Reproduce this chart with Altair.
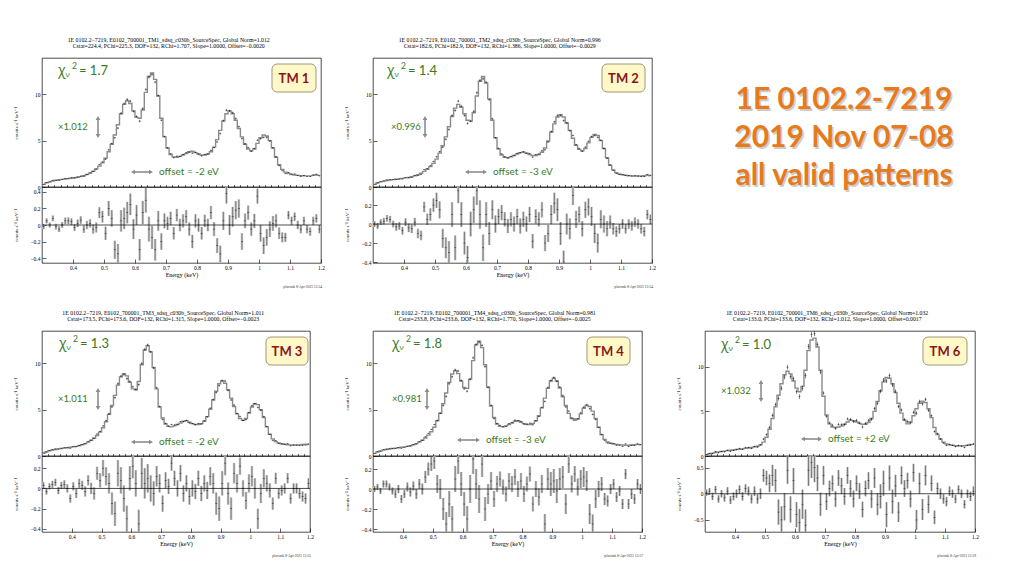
import altair as alt
import pandas as pd

# ---------------- data ----------------
ENERGY = [round(0.305 + 0.01 * i, 3) for i in range(90)]  # bin centres, keV
X_MAJOR = [0.4, 0.5, 0.6, 0.7, 0.8, 0.9, 1.0, 1.1, 1.2]
X_MINOR = [0.32, 0.34, 0.36, 0.38, 0.4, 0.42, 0.44, 0.46, 0.48, 0.5, 0.52, 0.54, 0.56, 0.58,
           0.6, 0.62, 0.64, 0.66, 0.68, 0.7, 0.72, 0.74, 0.76, 0.78, 0.8, 0.82, 0.84, 0.86,
           0.88, 0.9, 0.92, 0.94, 0.96, 0.98, 1.0, 1.02, 1.04, 1.06, 1.08, 1.1, 1.12, 1.14,
           1.16, 1.18]

MODEL_TM1 = [0.30,0.45,0.55,0.65,0.72,0.78,0.82,0.86,0.90,0.95,
             1.00,1.05,1.12,1.22,1.35,1.50,1.70,1.95,2.25,2.60,
             3.10,3.80,4.60,5.60,6.70,7.90,8.90,9.30,9.00,8.20,
             7.50,7.40,8.30,10.20,11.90,12.30,11.60,9.80,7.40,5.40,
             4.20,3.50,3.25,3.20,3.30,3.45,3.60,3.80,3.85,3.70,
             3.55,3.45,3.45,3.55,3.80,4.30,5.10,6.10,7.10,7.90,
             8.20,7.90,7.20,6.30,5.40,4.60,4.10,3.90,4.10,4.70,
             5.30,5.60,5.50,5.00,4.20,3.20,2.40,1.90,1.60,1.45,
             1.35,1.30,1.25,1.22,1.20,1.20,1.20,1.25,1.30,1.25]
MODEL_TM2 = [0.30,0.45,0.55,0.63,0.70,0.76,0.80,0.84,0.88,0.93,
             0.98,1.03,1.10,1.20,1.32,1.48,1.68,1.92,2.20,2.55,
             3.00,3.65,4.45,5.40,6.50,7.60,8.50,8.90,8.60,7.90,
             7.20,7.10,8.00,9.80,11.40,11.90,11.20,9.50,7.20,5.30,
             4.10,3.45,3.20,3.15,3.25,3.40,3.55,3.70,3.75,3.65,
             3.50,3.40,3.40,3.50,3.75,4.20,4.95,5.90,6.80,7.55,
             7.80,7.55,6.90,6.10,5.25,4.50,4.05,3.90,4.15,4.75,
             5.35,5.65,5.55,5.00,4.15,3.15,2.35,1.85,1.55,1.40,
             1.32,1.27,1.22,1.20,1.18,1.18,1.18,1.22,1.27,1.22]
MODEL_TM3 = [0.30,0.46,0.56,0.64,0.71,0.77,0.81,0.85,0.89,0.94,
             0.99,1.04,1.11,1.21,1.34,1.50,1.70,1.94,2.22,2.58,
             3.05,3.70,4.50,5.45,6.55,7.65,8.55,8.90,8.65,7.95,
             7.25,7.15,8.05,9.85,11.45,11.90,11.25,9.55,7.25,5.30,
             4.10,3.45,3.20,3.15,3.25,3.40,3.55,3.75,3.80,3.65,
             3.50,3.40,3.40,3.50,3.75,4.25,5.05,6.05,7.00,7.80,
             8.10,7.85,7.15,6.25,5.35,4.55,4.05,3.85,4.05,4.65,
             5.30,5.65,5.55,5.00,4.15,3.15,2.35,1.85,1.55,1.40,
             1.32,1.27,1.22,1.20,1.18,1.18,1.20,1.24,1.28,1.24]
MODEL_TM4 = [0.28,0.44,0.54,0.63,0.70,0.76,0.81,0.85,0.89,0.94,
             0.99,1.04,1.11,1.21,1.34,1.50,1.70,1.95,2.25,2.62,
             3.10,3.80,4.62,5.65,6.80,7.95,8.85,9.20,8.90,8.10,
             7.40,7.30,8.30,10.30,12.00,12.40,11.70,9.85,7.45,5.40,
             4.15,3.45,3.20,3.15,3.25,3.40,3.55,3.75,3.80,3.65,
             3.50,3.40,3.40,3.52,3.80,4.35,5.20,6.25,7.30,8.10,
             8.40,8.10,7.35,6.40,5.45,4.60,4.05,3.85,4.00,4.55,
             5.15,5.45,5.35,4.85,4.05,3.10,2.30,1.80,1.52,1.38,
             1.30,1.25,1.20,1.18,1.16,1.16,1.18,1.22,1.26,1.22]
MODEL_TM6 = [0.15,0.25,0.32,0.40,0.46,0.50,0.55,0.60,0.64,0.68,
             0.72,0.76,0.80,0.85,0.90,0.95,1.02,1.10,1.25,1.55,
             2.10,3.00,4.20,5.50,6.80,8.10,9.10,9.50,9.20,8.40,
             7.60,7.20,7.80,9.60,11.80,13.00,13.20,12.20,9.60,6.70,
             4.60,3.60,3.25,3.20,3.25,3.35,3.55,3.80,4.00,3.95,
             3.80,3.65,3.55,3.55,3.75,4.20,5.00,6.10,7.30,8.30,
             8.80,8.70,8.10,7.10,5.90,4.80,4.00,3.60,3.80,4.50,
             5.30,5.90,6.15,6.00,5.30,4.30,3.20,2.40,1.90,1.55,
             1.35,1.25,1.20,1.15,1.12,1.12,1.15,1.20,1.28,1.30]

RESID_TM1 = [-0.02,0.05,0.00,0.08,-0.02,-0.05,0.00,0.05,0.05,0.04,
             -0.03,0.02,0.06,-0.05,0.00,0.02,-0.05,-0.03,0.15,0.10,
             -0.10,0.20,0.08,-0.30,-0.35,0.05,0.08,0.15,0.25,-0.05,
             0.12,-0.30,0.15,0.30,-0.05,-0.15,-0.30,0.05,-0.20,0.05,
             0.02,0.08,-0.10,0.12,0.00,0.05,0.10,-0.05,-0.20,0.05,
             0.00,-0.10,0.05,0.00,0.15,-0.05,-0.25,-0.35,0.05,0.38,
             0.00,0.10,0.18,0.20,-0.20,0.05,0.15,-0.05,0.05,0.35,
             -0.10,-0.25,-0.15,-0.05,0.02,0.05,-0.10,-0.15,-0.15,0.12,
             0.05,0.10,0.00,-0.05,0.05,-0.05,-0.08,0.05,0.08,-0.05]
RESID_TM2 = [0.00,-0.02,0.02,0.03,0.06,0.05,0.00,-0.03,-0.02,-0.07,
             0.02,-0.04,-0.05,0.02,-0.10,-0.12,0.18,0.05,0.10,0.20,
             0.25,0.15,-0.15,-0.25,-0.30,0.10,-0.25,0.35,0.10,-0.20,
             -0.35,0.00,0.15,0.35,0.10,-0.25,0.10,-0.10,0.15,0.00,
             0.08,0.12,0.05,-0.02,0.05,0.00,0.08,-0.02,0.05,0.00,
             0.10,-0.18,0.08,0.05,0.15,-0.20,-0.10,0.10,0.22,0.15,
             -0.10,-0.40,0.00,-0.05,0.30,0.05,0.10,-0.05,0.15,0.18,
             0.08,-0.10,-0.20,0.05,0.00,-0.05,0.02,-0.05,-0.08,-0.05,
             0.00,-0.05,0.00,-0.02,0.02,0.00,-0.05,-0.08,0.10,0.05]
RESID_TM3 = [0.03,-0.03,0.02,0.04,0.06,-0.02,0.03,0.04,0.00,-0.10,
             0.02,-0.05,0.05,0.03,-0.03,0.08,0.00,-0.05,0.15,0.08,
             0.20,0.12,0.05,-0.15,-0.25,0.15,0.08,-0.10,-0.30,0.10,
             0.22,0.05,-0.35,0.15,0.05,0.10,0.00,-0.05,0.12,0.05,
             -0.15,0.08,0.02,0.25,0.10,0.00,0.15,-0.05,0.05,-0.08,
             0.00,-0.03,0.10,-0.05,0.05,-0.02,0.12,0.05,-0.15,-0.20,
             0.05,0.25,-0.05,-0.20,0.15,0.05,0.22,0.00,-0.12,0.05,
             0.12,0.00,-0.30,-0.05,0.10,0.05,-0.02,-0.15,0.10,-0.05,
             -0.02,0.00,0.10,-0.10,0.00,0.00,-0.05,-0.08,-0.10,0.05]
RESID_TM4 = [0.00,0.02,-0.02,0.05,0.05,0.02,-0.02,-0.05,0.00,-0.10,
             -0.05,0.02,-0.03,0.03,-0.05,0.05,0.00,0.12,0.20,0.25,
             0.28,0.05,0.00,-0.20,-0.35,-0.15,-0.30,0.10,0.28,0.05,
             -0.15,-0.30,0.00,0.30,0.05,-0.10,0.25,-0.20,-0.05,0.08,
             -0.10,0.05,0.10,0.02,-0.05,0.08,0.05,0.12,0.00,0.08,
             -0.05,0.05,0.15,-0.15,0.00,-0.08,0.05,-0.35,0.10,0.05,
             0.08,-0.02,0.10,0.12,-0.15,0.25,0.05,0.15,0.02,0.10,
             0.12,0.08,-0.25,-0.35,-0.10,0.00,0.05,-0.10,-0.12,0.00,
             0.05,-0.08,-0.02,-0.15,0.15,-0.15,-0.05,-0.10,0.05,0.00]
RESID_TM6 = [0.02,0.05,-0.05,0.08,-0.10,0.00,-0.08,0.05,-0.12,-0.05,
             0.00,0.08,-0.05,0.10,0.05,-0.10,0.05,-0.10,0.00,0.35,
             0.30,0.20,0.35,0.25,-0.35,-0.50,-0.25,0.45,-0.30,0.25,
             -0.40,-0.55,-0.20,-0.60,0.45,0.60,0.50,0.30,-0.20,0.35,
             -0.15,0.10,0.20,-0.10,0.30,0.15,-0.05,0.35,0.10,-0.10,
             0.20,0.05,-0.30,0.10,0.25,-0.10,0.30,-0.20,-0.05,0.20,
             -0.40,0.30,-0.15,0.15,-0.35,0.35,0.10,0.25,-0.10,0.40,
             -0.50,0.20,-0.30,0.35,-0.20,0.20,-0.45,0.10,0.00,-0.10,
             -0.15,0.05,0.00,-0.10,0.08,0.00,-0.20,0.00,-0.05,0.05]

ERR_STD = [0.03,0.03,0.03,0.035,0.035,0.035,0.035,0.04,0.04,0.04,
           0.04,0.045,0.045,0.045,0.05,0.05,0.055,0.06,0.065,0.07,
           0.08,0.09,0.10,0.11,0.12,0.13,0.13,0.13,0.13,0.12,
           0.12,0.13,0.14,0.15,0.15,0.14,0.13,0.12,0.10,0.09,
           0.08,0.08,0.075,0.075,0.075,0.08,0.08,0.08,0.08,0.08,
           0.08,0.075,0.075,0.075,0.08,0.085,0.09,0.10,0.11,0.12,
           0.12,0.12,0.11,0.11,0.10,0.09,0.085,0.08,0.085,0.09,
           0.10,0.10,0.10,0.095,0.09,0.08,0.07,0.06,0.055,0.05,
           0.05,0.05,0.05,0.05,0.05,0.05,0.05,0.05,0.05,0.05]
ERR_TM6 = [0.06,0.06,0.07,0.07,0.07,0.07,0.07,0.075,0.075,0.075,
           0.08,0.08,0.08,0.08,0.085,0.085,0.09,0.09,0.10,0.12,
           0.14,0.17,0.20,0.22,0.24,0.26,0.26,0.26,0.25,0.24,
           0.24,0.26,0.28,0.30,0.30,0.30,0.28,0.25,0.22,0.18,
           0.16,0.15,0.15,0.15,0.15,0.15,0.16,0.16,0.16,0.16,
           0.15,0.15,0.15,0.15,0.16,0.17,0.19,0.21,0.23,0.24,
           0.24,0.24,0.23,0.21,0.19,0.17,0.16,0.15,0.16,0.17,
           0.19,0.20,0.20,0.19,0.17,0.15,0.13,0.11,0.10,0.09,
           0.09,0.09,0.08,0.08,0.08,0.08,0.08,0.08,0.09,0.09]

HEAD1 = {
    "TM1": "1E 0102.2\u22127219, E0102_700001_TM1_sdsq_c030b_SourceSpec, Global Norm=1.012",
    "TM2": "1E 0102.2\u22127219, E0102_700001_TM2_sdsq_c030b_SourceSpec, Global Norm=0.996",
    "TM3": "1E 0102.2\u22127219, E0102_700001_TM3_sdsq_c030b_SourceSpec, Global Norm=1.011",
    "TM4": "1E 0102.2\u22127219, E0102_700001_TM4_sdsq_c030b_SourceSpec, Global Norm=0.981",
    "TM6": "1E 0102.2\u22127219, E0102_700001_TM6_sdsq_c030b_SourceSpec, Global Norm=1.032",
}
HEAD2 = {
    "TM1": "Cstat=224.4, PChi=225.3, DOF=132, RChi=1.707, Slope=1.0000, Offset=\u22120.0020",
    "TM2": "Cstat=182.6, PChi=182.9, DOF=132, RChi=1.386, Slope=1.0000, Offset=\u22120.0029",
    "TM3": "Cstat=173.5, PChi=173.6, DOF=132, RChi=1.315, Slope=1.0000, Offset=\u22120.0023",
    "TM4": "Cstat=233.8, PChi=233.6, DOF=132, RChi=1.770, Slope=1.0000, Offset=\u22120.0025",
    "TM6": "Cstat=133.0, PChi=133.6, DOF=132, RChi=1.012, Slope=1.0000, Offset=0.0017",
}
STAMP = {"TM1": "13:54", "TM2": "13:54", "TM3": "13:55", "TM4": "13:57", "TM6": "13:59"}
CHI = {"TM1": "1.7", "TM2": "1.4", "TM3": "1.3", "TM4": "1.8", "TM6": "1.0"}
NORM = {"TM1": "\u00d71.012", "TM2": "\u00d70.996", "TM3": "\u00d71.011", "TM4": "\u00d70.981", "TM6": "\u00d71.032"}
OFFSET = {"TM1": "offset = -2 eV", "TM2": "offset = -3 eV", "TM3": "offset = -2 eV",
          "TM4": "offset = -3 eV", "TM6": "offset = +2 eV"}
TITLE_LINES = ["1E 0102.2-7219", "2019 Nov 07-08", "all valid patterns"]

# ---------------- styling ----------------
SERIF = "Liberation Serif"
SANS = "Lato"
GREEK = "Open Sans"
GREEN = "#3a7a25"
GREY_ARROW = "#8c8c8c"
ONE = pd.DataFrame({"k": [0]})


def txt(text, x, y, size, color, font=SANS, weight="normal", align="left", baseline="middle"):
    return alt.Chart(ONE).mark_text(
        text=text, font=font, fontSize=size, color=color, fontWeight=weight,
        align=align, baseline=baseline,
    ).encode(x=alt.value(x), y=alt.value(y))


def harrow(x1, x2, y):
    shaft = alt.Chart(ONE).mark_rule(color=GREY_ARROW, strokeWidth=1.6).encode(
        x=alt.value(x1 + 3), x2=alt.value(x2 - 3), y=alt.value(y))
    left = alt.Chart(ONE).mark_point(shape="triangle-left", filled=True, size=22, color=GREY_ARROW,
                                     opacity=1).encode(x=alt.value(x1 + 2), y=alt.value(y))
    right = alt.Chart(ONE).mark_point(shape="triangle-right", filled=True, size=22, color=GREY_ARROW,
                                      opacity=1).encode(x=alt.value(x2 - 2), y=alt.value(y))
    return [shaft, left, right]


def varrow(x, y1, y2):
    shaft = alt.Chart(ONE).mark_rule(color=GREY_ARROW, strokeWidth=1.6).encode(
        x=alt.value(x), y=alt.value(y1 + 3), y2=alt.value(y2 - 3))
    up = alt.Chart(ONE).mark_point(shape="triangle-up", filled=True, size=22, color=GREY_ARROW,
                                   opacity=1).encode(x=alt.value(x), y=alt.value(y1 + 2))
    down = alt.Chart(ONE).mark_point(shape="triangle-down", filled=True, size=22, color=GREY_ARROW,
                                     opacity=1).encode(x=alt.value(x), y=alt.value(y2 - 2))
    return [shaft, up, down]


YAXIS_TITLE = "counts s\u207b\u00b9 keV\u207b\u00b9"


def y_axis(values, fmt):
    # negative offset + tick size => ticks drawn inward, like the PGPLOT frame
    return alt.Axis(values=values, format=fmt, title=YAXIS_TITLE, titleFont=SERIF, titleFontSize=5,
                    titleFontWeight="normal", titlePadding=3, labelFont=SERIF, labelFontSize=5.5,
                    minExtent=25, maxExtent=25, tickSize=4, tickWidth=0.6, offset=-4, domain=False,
                    grid=False, labelPadding=2, labelOverlap=False, labelBound=False,
                    labelFlush=False)


def panel(tm, model, resid, err, W, HS, HR, ymax, rdom, rvals, ann):
    df = pd.DataFrame({"E": ENERGY, "model": model, "resid": resid, "err": err})
    df["data"] = df["model"] + df["resid"]
    df["dlo"] = df["data"] - df["err"]
    df["dhi"] = df["data"] + df["err"]
    df["rlo"] = df["resid"] - df["err"]
    df["rhi"] = df["resid"] + df["err"]

    xsc = alt.Scale(domain=[0.3, 1.2], nice=False, zero=False)
    spec_x_axis = alt.Axis(values=X_MINOR, labels=False, ticks=True, tickSize=2.5, offset=-2.5,
                           tickWidth=0.6, title=None, domain=False, grid=False)
    ysc = alt.Scale(domain=[0, ymax], nice=False)
    yax = y_axis([0, 5, 10], "d")
    base = alt.Chart(df)

    model_line = base.mark_line(interpolate="step", color="#8a8a8a", strokeWidth=1.4).encode(
        x=alt.X("E:Q", scale=xsc, axis=spec_x_axis), y=alt.Y("model:Q", scale=ysc, axis=yax))
    dbar = base.mark_rule(color="black", strokeWidth=0.5).encode(
        x=alt.X("E:Q", scale=xsc, axis=spec_x_axis), y=alt.Y("dlo:Q", scale=ysc, axis=yax), y2="dhi:Q")
    dtick = base.mark_tick(color="black", orient="horizontal", size=2, thickness=0.6).encode(
        x=alt.X("E:Q", scale=xsc, axis=spec_x_axis), y=alt.Y("data:Q", scale=ysc, axis=yax))

    a = ann
    layers = [model_line, dbar, dtick]
    cx, cy = a["chi"]
    layers += [
        txt("\u03c7", cx, cy, 14, GREEN, font=GREEK),
        txt("\u03bd", cx + 7.5, cy + 4, 8, GREEN, font=GREEK),
        txt("2", cx + 14, cy - 5, 8.5, GREEN),
        txt("= " + CHI[tm], cx + 21, cy, 13, GREEN),
    ]
    bx1, bx2, by1, by2 = a["box"]
    layers += [
        alt.Chart(ONE).mark_rect(cornerRadius=5, fill="#fff8c8", stroke="#a09878", strokeWidth=1).encode(
            x=alt.value(bx1), x2=alt.value(bx2), y=alt.value(by1), y2=alt.value(by2)),
        txt(tm[:2] + " " + tm[2:], (bx1 + bx2) / 2, (by1 + by2) / 2 + 0.5, 13, "#8b1515",
            weight="bold", align="center"),
    ]
    nx, ny = a["norm"]
    layers.append(txt(NORM[tm], nx, ny, 9.5, GREEN))
    layers += varrow(*a["varrow"])
    layers += harrow(*a["harrow"])
    ox, oy = a["offset"]
    layers.append(txt(OFFSET[tm], ox, oy, 10, GREEN))

    spec = alt.layer(*layers).properties(width=W, height=HS)

    rsc = alt.Scale(domain=rdom, nice=False)
    ryax = y_axis(rvals, "~g")
    xaxis = alt.Axis(values=X_MAJOR, format="~g",
                     title="Energy (keV)", titleFont=SERIF, titleFontSize=6, titleFontWeight="normal",
                     titlePadding=1, labelFont=SERIF, labelFontSize=5.5, tickSize=4, tickWidth=0.6,
                     offset=-4, labelPadding=2, domain=False, grid=False, labelOverlap=False,
                     labelFlush=False)
    rbase = alt.Chart(df)
    gbar = rbase.mark_rule(color="#c6c6c6", strokeWidth=2.5, clip=True).encode(
        x=alt.X("E:Q", scale=xsc, axis=xaxis),
        y=alt.Y("rlo:Q", scale=rsc, axis=ryax), y2="rhi:Q")
    kbar = rbase.mark_rule(color="#333333", strokeWidth=0.5, clip=True).encode(
        x=alt.X("E:Q", scale=xsc, axis=xaxis), y=alt.Y("rlo:Q", scale=rsc, axis=ryax), y2="rhi:Q")
    ktick = rbase.mark_tick(color="black", orient="horizontal", size=2, thickness=0.6,
                            clip=True).encode(
        x=alt.X("E:Q", scale=xsc, axis=xaxis), y=alt.Y("resid:Q", scale=rsc, axis=ryax))
    zero = alt.Chart(pd.DataFrame({"z": [0.0]})).mark_rule(color="black", strokeWidth=0.7).encode(
        y=alt.Y("z:Q", scale=rsc, axis=ryax))
    stamp = txt("plucimk  8-Apr-2023 " + STAMP[tm], W + 1, HR + 24, 3.6, "#333333",
                font=SERIF, align="right")
    res = alt.layer(gbar, kbar, ktick, zero, stamp).properties(width=W, height=HR)

    return alt.vconcat(spec, res, spacing=0, bounds="flush").properties(
        title=alt.TitleParams([HEAD1[tm], HEAD2[tm]], font=SERIF, fontSize=5.8, fontWeight="normal",
                              anchor="middle", offset=9, lineHeight=6, color="black"))


# annotation positions (pixels within each spectrum plot)
ANN = {
    "TM1": dict(chi=(16, 13), box=(230, 274, 6, 34), norm=(16, 69), varrow=(56, 58, 80),
                harrow=(89, 111, 114), offset=(117, 114)),
    "TM2": dict(chi=(14, 13), box=(229, 272, 6, 34), norm=(18, 69), varrow=(52, 58, 80),
                harrow=(92, 114, 114), offset=(120, 114)),
    "TM3": dict(chi=(17, 13), box=(224, 266, 6, 34), norm=(16, 68), varrow=(56, 57, 79),
                harrow=(89, 111, 111), offset=(117, 111)),
    "TM4": dict(chi=(19, 13), box=(214, 257, 6, 34), norm=(19, 68), varrow=(54, 57, 79),
                harrow=(84, 107, 109), offset=(113, 109)),
    "TM6": dict(chi=(16, 14), box=(218, 262, 6, 34), norm=(16, 60), varrow=(56, 49, 71),
                harrow=(96, 117, 108), offset=(123, 108)),
}

p1 = panel("TM1", MODEL_TM1, RESID_TM1, ERR_STD, 279, 129, 76, 13.9, [-0.46, 0.46],
           [-0.4, -0.2, 0, 0.2, 0.4], ANN["TM1"])
p2 = panel("TM2", MODEL_TM2, RESID_TM2, ERR_STD, 279, 129, 76, 13.9, [-0.41, 0.39],
           [-0.4, -0.2, 0, 0.2], ANN["TM2"])
p3 = panel("TM3", MODEL_TM3, RESID_TM3, ERR_STD, 268, 125, 76, 13.5, [-0.43, 0.32],
           [-0.4, -0.2, 0, 0.2], ANN["TM3"])
p4 = panel("TM4", MODEL_TM4, RESID_TM4, ERR_STD, 269, 125, 76, 13.5, [-0.43, 0.33],
           [-0.4, -0.2, 0, 0.2], ANN["TM4"])
p6 = panel("TM6", MODEL_TM6, RESID_TM6, ERR_TM6, 270, 125, 76, 14.0, [-0.73, 0.72],
           [-0.5, 0, 0.5], ANN["TM6"])

# big orange title block
ORANGE = "#e67a1c"
tl = []
for i, line in enumerate(TITLE_LINES):
    yb = 51 + 38 * i
    tl.append(txt(line, 171.5, yb + 1.5, 30, "#cccccc", weight="bold", align="center",
                  baseline="alphabetic"))
    tl.append(txt(line, 170, yb, 30, ORANGE, weight="bold", align="center", baseline="alphabetic"))
title_block = alt.layer(*tl).properties(width=320, height=200,
                                        view=alt.ViewBackground(strokeWidth=0, stroke="transparent"))

row1 = alt.hconcat(p1, p2, title_block, spacing=18)
row2 = alt.hconcat(p3, p4, p6, spacing=29)

chart = alt.vconcat(row1, row2, spacing=20).properties(
    padding={"left": 4, "top": 28, "right": 0, "bottom": 0},
    background="white",
).configure_view(stroke="black", strokeWidth=0.7).configure_axis(
    labelColor="black", tickColor="black", titleColor="black")

chart.save("out.html", embed_options={"renderer": "svg", "actions": False})
